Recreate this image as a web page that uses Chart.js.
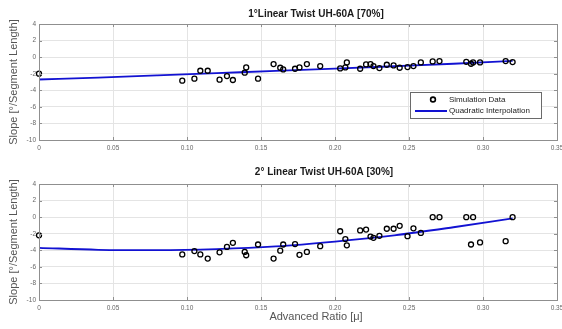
<!DOCTYPE html>
<html>
<head>
<meta charset="utf-8">
<script src="https://cdn.jsdelivr.net/npm/chart.js@4.4.1/dist/chart.umd.min.js"></script>
<style>
  html, body { margin: 0; padding: 0; background: #fff; overflow: hidden; }
  #wrap { position: relative; width: 562px; height: 329px; overflow: hidden; }
  canvas { position: absolute; left: 0; }
  #top { top: 0; }
  #bottom { top: 160px; }
</style>
</head>
<body>
<div id="wrap">
  <canvas id="top" width="632" height="160"></canvas>
  <canvas id="bottom" width="632" height="169"></canvas>
</div>
<script>
// Advance ratio of each simulated case (shared by both twist cases)
const advRatio = [0, 0.0968, 0.105, 0.109, 0.114, 0.122, 0.127, 0.131, 0.139, 0.140,
  0.148, 0.1585, 0.163, 0.165, 0.173, 0.176, 0.181, 0.190, 0.2035, 0.207,
  0.208, 0.217, 0.221, 0.224, 0.226, 0.230, 0.235, 0.2396, 0.2437, 0.249,
  0.253, 0.258, 0.266, 0.2706, 0.2887, 0.2919, 0.2933, 0.298, 0.3153, 0.32];

// Slope per case, 1° twist at 70% span
const slope70 = [-2.0, -2.84, -2.6, -1.64, -1.64, -2.72, -2.28, -2.76, -1.88, -1.24,
  -2.6, -0.84, -1.28, -1.48, -1.4, -1.24, -0.84, -1.08, -1.36, -1.24,
  -0.64, -1.4, -0.88, -0.84, -1.08, -1.32, -0.92, -1.0, -1.28, -1.2,
  -1.08, -0.64, -0.52, -0.48, -0.56, -0.8, -0.64, -0.64, -0.48, -0.6];

// Slope per case, 2° twist at 30% span
const slope30 = [-2.2, -4.5, -4.1, -4.5, -5.0, -4.25, -3.6, -3.1, -4.2, -4.6,
  -3.3, -5.0, -4.05, -3.3, -3.25, -4.55, -4.2, -3.5, -1.7, -2.65,
  -3.4, -1.6, -1.5, -2.35, -2.5, -2.25, -1.4, -1.4, -1.05, -2.3,
  -1.35, -1.9, 0, 0, 0, -3.3, 0, -3.05, -2.9, 0];

// Quadratic fit curves
const fitRatio = [0, 0.04, 0.08, 0.12, 0.16, 0.20, 0.24, 0.28, 0.32];
const fit70 = [-2.7, -2.46, -2.2, -1.93, -1.66, -1.39, -1.1, -0.8, -0.45];
const fit30 = [-3.7, -3.94, -3.99, -3.86, -3.54, -2.95, -2.2, -1.22, -0.15];

const X_MIN = 0, X_MAX = 0.35, X_STEP = 0.05;
const Y_MIN = -10, Y_MAX = 4, Y_STEP = 2;

const FONT = 'Liberation Sans, Arial, Helvetica, sans-serif';
const LINE_BLUE = '#1212d2';

const toPoints = (xs, ys) => xs.map((x, i) => ({ x, y: ys[i] }));

// axes box + inward tick marks, matlab style
const framePlugin = {
  id: 'frame',
  afterDraw(chart) {
    const { ctx, chartArea: a, scales } = chart;
    ctx.save();
    ctx.strokeStyle = '#8f8f8f';
    ctx.lineWidth = 1;
    ctx.beginPath();
    scales.x.ticks.forEach(t => {
      const px = Math.round(scales.x.getPixelForValue(t.value)) + 0.5;
      ctx.moveTo(px, a.top); ctx.lineTo(px, a.top + 3);
      ctx.moveTo(px, a.bottom); ctx.lineTo(px, a.bottom - 3);
    });
    scales.y.ticks.forEach(t => {
      const py = Math.round(scales.y.getPixelForValue(t.value)) + 0.5;
      ctx.moveTo(a.left, py); ctx.lineTo(a.left + 3, py);
      ctx.moveTo(a.right, py); ctx.lineTo(a.right - 3, py);
    });
    ctx.stroke();
    ctx.strokeRect(Math.round(a.left) + 0.5, Math.round(a.top) + 0.5,
      Math.round(a.right - a.left), Math.round(a.bottom - a.top));
    ctx.restore();
  }
};

// titles and axis caption, placed where the figure puts them
const captions = {
  id: 'captions',
  afterDraw(chart, args, opts) {
    const { ctx } = chart;
    ctx.save();
    ctx.textAlign = 'center';
    ctx.textBaseline = 'middle';
    (opts.items || []).forEach(it => {
      ctx.font = it.font;
      ctx.fillStyle = it.color;
      ctx.fillText(it.text, it.x, it.y);
    });
    ctx.restore();
  }
};

// legend box inside the lower right of the top axes
const boxLegend = {
  id: 'boxLegend',
  afterDraw(chart, args, opts) {
    if (!opts.show) return;
    const { ctx, chartArea: a } = chart;
    const left = a.right - 147, top = a.top + 68, w = 131, h = 26;
    ctx.save();
    ctx.fillStyle = '#fff';
    ctx.fillRect(left, top, w, h);
    ctx.strokeStyle = '#6a6a6a';
    ctx.lineWidth = 1;
    ctx.strokeRect(left + 0.5, top + 0.5, w, h);

    ctx.strokeStyle = '#000';
    ctx.lineWidth = 1.6;
    ctx.beginPath();
    ctx.arc(left + 23, top + 7.5, 2.4, 0, Math.PI * 2);
    ctx.stroke();

    ctx.strokeStyle = LINE_BLUE;
    ctx.lineWidth = 2;
    ctx.beginPath();
    ctx.moveTo(left + 5, top + 19);
    ctx.lineTo(left + 37, top + 19);
    ctx.stroke();

    ctx.fillStyle = '#222';
    ctx.font = '8px ' + FONT;
    ctx.textBaseline = 'middle';
    ctx.fillText('Simulation Data', left + 39, top + 7.5);
    ctx.fillText('Quadratic Interpolation', left + 39, top + 19);
    ctx.restore();
  }
};

const TITLE_FONT = 'bold 10px ' + FONT;
const LABEL_FONT = '11px ' + FONT;

function makeChart(id, cfg) {
  return new Chart(document.getElementById(id), {
    type: 'scatter',
    data: {
      datasets: [
        {
          label: 'Simulation Data',
          data: toPoints(advRatio, cfg.slopes),
          pointStyle: 'circle',
          pointRadius: 2.5,
          pointBorderWidth: 1.3,
          pointBorderColor: '#000',
          pointBackgroundColor: 'rgba(255,255,255,0)',
          showLine: false,
          clip: false,
        },
        {
          label: 'Quadratic Interpolation',
          data: toPoints(fitRatio, cfg.fit),
          showLine: true,
          borderColor: LINE_BLUE,
          borderWidth: 1.8,
          pointRadius: 0,
          cubicInterpolationMode: 'monotone',
          fill: false,
        },
      ],
    },
    options: {
      responsive: false,
      animation: false,
      layout: { padding: { left: 0, right: 75, top: cfg.topPad, bottom: 0 } },
      plugins: {
        legend: { display: false },
        tooltip: { enabled: false },
        title: { display: false },
        captions: { items: cfg.captions },
        boxLegend: { show: !!cfg.legend },
      },
      scales: {
        x: {
          type: 'linear',
          min: X_MIN, max: X_MAX,
          ticks: {
            stepSize: X_STEP, padding: 4, maxRotation: 0, autoSkip: false,
            color: '#666', font: { family: FONT, size: 6.5 },
          },
          grid: { color: '#e4e4e4', drawTicks: false },
          border: { display: false },
          afterFit: s => { s.height = cfg.xHeight; },
        },
        y: {
          type: 'linear',
          min: Y_MIN, max: Y_MAX,
          ticks: {
            stepSize: Y_STEP, padding: 3,
            color: '#666', font: { family: FONT, size: 6.5 },
          },
          grid: { color: '#e4e4e4', drawTicks: false },
          border: { display: false },
          title: {
            display: true,
            text: 'Slope [°/Segment Length]',
            color: '#555',
            font: { family: FONT, size: 11 },
            padding: { top: 7, bottom: 0 },
          },
          afterFit: s => { s.width = 39; },
        },
      },
    },
    plugins: [framePlugin, boxLegend, captions],
  });
}

makeChart('top', {
  slopes: slope70,
  fit: fit70,
  topPad: 24,
  xHeight: 20,
  legend: true,
  captions: [
    { text: '1°Linear Twist UH-60A [70%]', x: 316, y: 14, font: TITLE_FONT, color: '#1a1a1a' },
  ],
});

makeChart('bottom', {
  slopes: slope30,
  fit: fit30,
  topPad: 24,
  xHeight: 29,
  captions: [
    { text: '2° Linear Twist UH-60A [30%]', x: 324, y: 12, font: TITLE_FONT, color: '#1a1a1a' },
    { text: 'Advanced Ratio [μ]', x: 316, y: 157, font: LABEL_FONT, color: '#555' },
  ],
});
</script>
</body>
</html>
